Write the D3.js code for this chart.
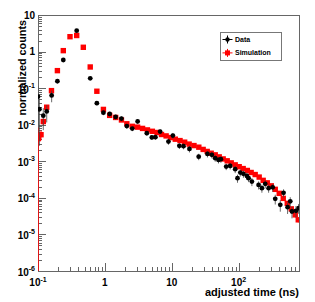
<!DOCTYPE html>
<html lang="en">
<head>
	<meta charset="utf-8">
	<title>normalized counts vs adjusted time</title>
	<script type="text/javascript" src="https://d3js.org/d3.v7.min.js" charset="utf-8"></script>
	<style type="text/css">
		body { margin: 0; background: #fff; }
		svg text {
		    font-family: "Liberation Sans", Arial, sans-serif;
		    font-weight: bold;
		    fill: #000;
		}
		.axis line {
		    stroke: #666;
		    shape-rendering: crispEdges;
		}
		.axis path { display: none; }
	</style>
</head>
<body>
<script type="text/javascript">

// Simulation (red squares): time in ns, normalized counts, relative error
var simTime = [0.101, 0.111, 0.120, 0.135, 0.159, 0.195, 0.239, 0.301, 0.379, 0.476,
               0.604, 0.759, 0.951, 1.18, 1.45, 1.77, 2.13, 2.57, 3.09, 3.66,
               4.33, 5.13, 6.03, 7.03, 8.24, 9.66, 11.3, 13.3, 15.6, 18.2,
               21.5, 25.4, 29.5, 33.9, 38.9, 44.7, 51.3, 58.8, 67.5, 77.5,
               88.9, 102, 117, 135, 154, 177, 203, 233, 268, 308,
               353, 405, 465, 534, 613, 703, 780];
var simCounts = [0.00417, 0.00533, 0.0122, 0.0301, 0.0855, 0.301, 1.06, 2.55, 2.75, 1.31,
                 0.379, 0.0823, 0.0262, 0.0180, 0.0158, 0.0135, 0.0106, 0.00904, 0.00859, 0.00792,
                 0.00721, 0.00661, 0.00612, 0.00540, 0.00494, 0.00445, 0.00402, 0.00368, 0.00333, 0.00295,
                 0.00269, 0.00243, 0.00211, 0.00186, 0.00166, 0.00150, 0.00132, 0.00116, 0.00103, 0.000904,
                 0.000798, 0.000711, 0.000632, 0.000561, 0.000494, 0.000434, 0.000370, 0.000301, 0.000257, 0.000213,
                 0.000171, 0.000133, 0.0000968, 0.0000708, 0.0000500, 0.0000343, 0.0000251];
var simRelErr = [1.0, 0.3, 0.2, 0.1, 0.05, 0.03, 0.02, 0.02, 0.02, 0.02,
                 0.03, 0.05, 0.06, 0.06, 0.06, 0.06, 0.06, 0.06, 0.06, 0.06,
                 0.06, 0.06, 0.06, 0.06, 0.06, 0.06, 0.06, 0.06, 0.07, 0.07,
                 0.07, 0.07, 0.08, 0.08, 0.08, 0.08, 0.08, 0.08, 0.08, 0.08,
                 0.08, 0.08, 0.08, 0.08, 0.08, 0.08, 0.08, 0.09, 0.09, 0.09,
                 0.1, 0.1, 0.1, 0.12, 0.12, 0.14, 0.15];

// Data (black circles)
var dataTime = [0.100, 0.105, 0.120, 0.135, 0.160, 0.195, 0.239, 0.379, 0.604, 0.759,
                0.951, 1.18, 1.45, 1.77, 2.13, 2.57, 3.09, 4.24, 5.04, 5.70,
                6.70, 8.93, 10.4, 13.0, 15.0, 18.4, 25.3, 34.2, 39.8, 44.7,
                50.0, 54.3, 65.2, 74.8, 88.9, 96.3, 106, 118, 133, 141,
                158, 199, 223, 250, 281, 324, 353, 420, 470, 540,
                592, 628, 721, 789];
var dataCounts = [0.0586, 0.0265, 0.0177, 0.0231, 0.0632, 0.155, 0.589, 3.72, 0.186, 0.0387,
                  0.0214, 0.0197, 0.0163, 0.0147, 0.00916, 0.00782, 0.0123, 0.00586, 0.00450, 0.00455,
                  0.00648, 0.00345, 0.00504, 0.00264, 0.00259, 0.00218, 0.00134, 0.00159, 0.00150, 0.00122,
                  0.00109, 0.00114, 0.000716, 0.000748, 0.000608, 0.000345, 0.000491, 0.000453, 0.000399, 0.000345,
                  0.000279, 0.000226, 0.000184, 0.000242, 0.000184, 0.000194, 0.0000939, 0.0000644, 0.000137, 0.0000557,
                  0.0000802, 0.0000423, 0.0000442, 0.0000524];
var dataRelErr = [0.9, 0.9, 0.6, 0.5, 0.35, 0.15, 0.05, 0.03, 0.06, 0.12,
                  0.15, 0.15, 0.15, 0.15, 0.15, 0.15, 0.15, 0.15, 0.15, 0.15,
                  0.15, 0.18, 0.18, 0.18, 0.18, 0.2, 0.2, 0.2, 0.2, 0.2,
                  0.2, 0.2, 0.2, 0.2, 0.22, 0.25, 0.22, 0.22, 0.22, 0.22,
                  0.25, 0.25, 0.25, 0.25, 0.25, 0.25, 0.3, 0.35, 0.25, 0.35,
                  0.3, 0.35, 0.35, 0.3];

// Tick labels (base and superscript)
var yTickValues = [1e-6, 1e-5, 1e-4, 1e-3, 1e-2, 1e-1, 1, 10];
var yTickBase = ["10", "10", "10", "10", "10", "10", "1", "10"];
var yTickSup = ["-6", "-5", "-4", "-3", "-2", "-1", "", ""];
var xTickValues = [0.1, 1, 10, 100];
var xTickBase = ["10", "1", "10", "10"];
var xTickSup = ["-1", "", "", "2"];

var legendLabels = ["Data", "Simulation"];
var legendColors = ["#000", "#ff0000"];

// Define margins
var margin = {top: 15, right: 16, bottom: 31, left: 38};
var outer_width = 315;
var outer_height = 302;
var svg_width = outer_width - margin.left - margin.right;
var svg_height = outer_height - margin.top - margin.bottom;

var root = d3.select("body")
		.append("svg")
		.attr("width", outer_width)
		.attr("height", outer_height);

var svg = root.append("g")
		.attr("transform", "translate(" + margin.left + "," + margin.top + ")");

// Log scales on both axes
var xScale = d3.scaleLog()
		.domain([0.1, 800])
		.range([0, svg_width]);
var yScale = d3.scaleLog()
		.domain([1e-6, 10])
		.range([svg_height, 0]);

svg.append("clipPath")
	.attr("id", "plotclip")
	.append("rect")
	.attr("width", svg_width)
	.attr("height", svg_height);

// minor ticks at 2..9 of each decade
function minorTicks(lo, hi) {
	var out = [];
	for (var p = lo; p < hi; p++) {
		for (var k = 2; k <= 9; k++) {
			var v = k * Math.pow(10, p);
			out.push(v);
		}
	}
	return out;
}

var yMinor = minorTicks(-6, 1);
var xMinor = minorTicks(-1, 3).filter(function(v) { return v <= 800; });

svg.append("g")
	.attr("class", "axis")
	.call(d3.axisLeft(yScale).tickValues(yMinor).tickSize(-4).tickFormat(""));
svg.append("g")
	.attr("class", "axis")
	.call(d3.axisLeft(yScale).tickValues(yTickValues).tickSize(-8).tickFormat(""));
svg.append("g")
	.attr("class", "axis")
	.attr("transform", "translate(0," + svg_height + ")")
	.call(d3.axisBottom(xScale).tickValues(xMinor).tickSize(-4).tickFormat(""));
svg.append("g")
	.attr("class", "axis")
	.attr("transform", "translate(0," + svg_height + ")")
	.call(d3.axisBottom(xScale).tickValues(xTickValues).tickSize(-8).tickFormat(""));

// Frame
svg.append("rect")
	.attr("x", 0.5)
	.attr("y", 0.5)
	.attr("width", svg_width)
	.attr("height", svg_height)
	.attr("fill", "none")
	.attr("stroke", "#666");

var marks = svg.append("g").attr("clip-path", "url(#plotclip)");

function errY(v, rel) {
	var lo = v * (1 - rel);
	return lo <= 1e-6 ? svg_height + 2 : yScale(lo);
}

// Simulation error bars and squares
var sim = simTime.map(function(t, i) { return {t: t, c: simCounts[i], e: simRelErr[i]}; });
marks.selectAll(".simerr")
	.data(sim)
	.enter().append("line")
	.attr("class", "simerr")
	.attr("x1", function(d) { return xScale(d.t); })
	.attr("x2", function(d) { return xScale(d.t); })
	.attr("y1", function(d) { return errY(d.c, d.e); })
	.attr("y2", function(d) { return yScale(d.c * (1 + d.e)); })
	.attr("stroke", "#ff0000")
	.attr("stroke-width", 1);
marks.selectAll(".simpt")
	.data(sim)
	.enter().append("rect")
	.attr("class", "simpt")
	.attr("x", function(d) { return xScale(d.t) - 2.7; })
	.attr("y", function(d) { return yScale(d.c) - 2.7; })
	.attr("width", 5.4)
	.attr("height", 5.4)
	.attr("fill", "#ff0000");

// Data error bars and circles
var dat = dataTime.map(function(t, i) { return {t: t, c: dataCounts[i], e: dataRelErr[i]}; });
marks.selectAll(".daterr")
	.data(dat)
	.enter().append("line")
	.attr("class", "daterr")
	.attr("x1", function(d) { return xScale(d.t); })
	.attr("x2", function(d) { return xScale(d.t); })
	.attr("y1", function(d) { return errY(d.c, d.e); })
	.attr("y2", function(d) { return yScale(d.c * (1 + d.e)); })
	.attr("stroke", "#444")
	.attr("stroke-width", 0.8);
marks.selectAll(".datpt")
	.data(dat)
	.enter().append("circle")
	.attr("class", "datpt")
	.attr("cx", function(d) { return xScale(d.t); })
	.attr("cy", function(d) { return yScale(d.c); })
	.attr("r", 2.4)
	.attr("fill", "#000");

// Y tick labels
var yLab = svg.selectAll(".ylab")
	.data(yTickValues)
	.enter().append("text")
	.attr("class", "ylab")
	.attr("text-anchor", "end")
	.attr("x", -3)
	.attr("y", function(d, i) { return yScale(d) + (yTickSup[i] ? 4.5 : 3.6); })
	.style("font-size", "10px");
yLab.append("tspan").text(function(d, i) { return yTickBase[i]; });
yLab.append("tspan")
	.attr("dy", -4.5)
	.style("font-size", "7px")
	.text(function(d, i) { return yTickSup[i]; });

// X tick labels
var xLab = svg.selectAll(".xlab")
	.data(xTickValues)
	.enter().append("text")
	.attr("class", "xlab")
	.attr("text-anchor", "middle")
	.attr("x", function(d) { return xScale(d); })
	.attr("y", svg_height + 15)
	.style("font-size", "10px");
xLab.append("tspan").text(function(d, i) { return xTickBase[i]; });
xLab.append("tspan")
	.attr("dy", -4.5)
	.style("font-size", "7px")
	.text(function(d, i) { return xTickSup[i]; });

// Axis titles
root.append("text")
	.attr("text-anchor", "end")
	.attr("transform", "translate(26,20)rotate(-90)")
	.style("font-size", "10.8px")
	.text("normalized counts");
root.append("text")
	.attr("text-anchor", "end")
	.attr("x", 299)
	.attr("y", 295.5)
	.style("font-size", "11px")
	.text("adjusted time (ns)");

// Legend
var legend = root.append("g").attr("transform", "translate(220,32)");
legend.append("rect")
	.attr("x", 0.5)
	.attr("y", 0.5)
	.attr("width", 61)
	.attr("height", 28)
	.attr("fill", "#fff")
	.attr("stroke", "#777");
var entry = legend.selectAll(".entry")
	.data(legendLabels)
	.enter().append("g")
	.attr("class", "entry")
	.attr("transform", function(d, i) { return "translate(0," + (7.5 + i * 13.4) + ")"; });
entry.append("line")
	.attr("x1", 2.5).attr("x2", 12.5).attr("y1", 0).attr("y2", 0)
	.attr("stroke", function(d, i) { return legendColors[i]; });
entry.append("line")
	.attr("x1", 7.5).attr("x2", 7.5).attr("y1", -4).attr("y2", 4)
	.attr("stroke", function(d, i) { return legendColors[i]; });
entry.filter(function(d, i) { return i === 0; })
	.append("circle")
	.attr("cx", 7.5).attr("cy", 0).attr("r", 2.2)
	.attr("fill", legendColors[0]);
entry.filter(function(d, i) { return i === 1; })
	.append("rect")
	.attr("x", 5).attr("y", -2.5).attr("width", 5).attr("height", 5)
	.attr("fill", legendColors[1]);
entry.append("text")
	.attr("x", 15)
	.attr("y", 2.5)
	.style("font-size", "7px")
	.text(function(d) { return d; });

</script>
</body>
</html>
